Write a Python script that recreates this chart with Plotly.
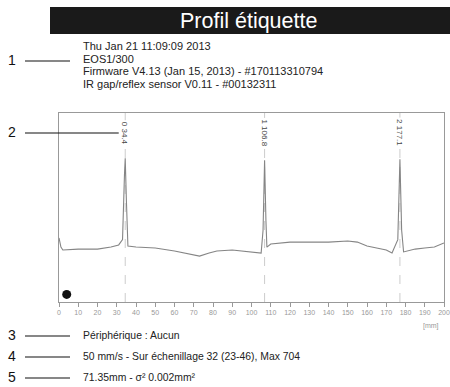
import plotly.graph_objects as go

# label profile data (position in mm, sensor level in arbitrary units)
pos_mm = [0, 1, 2, 10, 20, 27, 31, 33, 34.0, 34.4, 35.0, 35.8, 40, 50, 60, 70, 73, 78, 82,
          90, 95, 100, 105, 106.0, 106.8, 107.5, 108, 110, 115, 120, 130, 140, 150, 155,
          160, 165, 170, 173, 176, 177.1, 178, 179, 185, 190, 195, 200]
level = [33.9, 29.1, 27.5, 28.0, 28.0, 29.1, 30.2, 33.0, 67.0, 76.0, 54.0, 29.6, 29.1, 28.6,
         27.0, 24.9, 24.3, 25.9, 27.0, 27.5, 27.0, 26.5, 25.9, 38.0, 75.0, 43.0, 29.0, 30.7,
         31.2, 31.7, 31.7, 31.7, 32.3, 31.7, 29.6, 28.6, 27.5, 25.9, 33.0, 75.5, 38.0, 26.5,
         28.0, 28.6, 29.1, 31.2]

peak_pos = [34.4, 106.8, 177.1]
peak_labels = ["0 34.4", "1 106.8", "2 177.1"]

dot_x = [4]
dot_y = [4]

x_ticks = list(range(0, 201, 10))

info_lines = [
    "Thu Jan 21 11:09:09 2013",
    "EOS1/300",
    "Firmware V4.13 (Jan 15, 2013) - #170113310794",
    "IR gap/reflex sensor V0.11 - #00132311",
]
bottom_lines = [
    "Périphérique : Aucun",
    "50 mm/s - Sur échenillage 32 (23-46), Max 704",
    "71.35mm - σ² 0.002mm²",
]

W, H = 450, 387
L, R, T, B = 59, 444, 113, 302


def px(x):
    return (x - L) / (R - L)


def py(y):
    return (B - y) / (B - T)


def label(x, y, text, size, color="#222222", xanchor="center", family="Liberation Sans"):
    fig.add_annotation(x=x, y=y, xref="paper", yref="paper", text=text, showarrow=False,
                       xanchor=xanchor, yanchor="middle",
                       font=dict(size=size, color=color, family=family))


fig = go.Figure()

fig.add_trace(go.Scatter(x=pos_mm, y=level, mode="lines",
                         line=dict(color="#858585", width=1.1), hoverinfo="skip"))
fig.add_trace(go.Scatter(x=dot_x, y=dot_y, mode="markers",
                         marker=dict(color="#111111", size=9), hoverinfo="skip"))

# peak markers
for p, lab in zip(peak_pos, peak_labels):
    fig.add_shape(type="line", x0=p, x1=p, y0=0, y1=1, xref="x", yref="paper",
                  line=dict(color="#cccccc", width=1, dash="dash"), layer="below")
    fig.add_annotation(x=p, y=py(133), xref="x", yref="paper", text=lab, textangle=90,
                       showarrow=False, bgcolor="white", xanchor="center", yanchor="middle",
                       font=dict(size=8, color="#444444", family="Liberation Sans"))

# title bar
fig.add_shape(type="rect", xref="paper", yref="paper", x0=px(50), x1=px(452),
              y0=py(34), y1=py(7), fillcolor="#1a1a1a", line=dict(width=0))
label(px(248), py(20.5), "Profil étiquette", 21.5, color="white")

# header info
for i, s in enumerate(info_lines):
    label(px(81), py(46 + 12.7 * i), s, 11, xanchor="left")

# callouts
callouts = [("1", 60, 70), ("2", 132, 122), ("3", 335, 70), ("4", 356, 70), ("5", 377, 70)]
for num, yy, xend in callouts:
    label(px(12), py(yy), num, 14, color="#111111")
    fig.add_shape(type="line", xref="paper", yref="paper", x0=px(25), x1=px(xend),
                  y0=py(yy + 1), y1=py(yy + 1), line=dict(color="#111111", width=1.2))

for i, s in enumerate(bottom_lines):
    label(px(81), py(335 + 21 * i), s, 10.4, xanchor="left")

label(px(431), py(326), "[mm]", 7, color="#999999")

fig.update_xaxes(range=[0, 200], tickvals=x_ticks, ticks="outside", ticklen=4,
                 tickcolor="#999999", tickfont=dict(size=7, color="#999999"),
                 showline=True, linecolor="#999999", mirror=True, showgrid=False,
                 zeroline=False, fixedrange=True, automargin=False)
fig.update_yaxes(range=[0, 100], showticklabels=False, showline=True, linecolor="#999999",
                 mirror=True, showgrid=False, zeroline=False, fixedrange=True, automargin=False)

fig.update_layout(width=W, height=H, margin=dict(l=L, r=W - R, t=T, b=H - B),
                  plot_bgcolor="white", paper_bgcolor="white", showlegend=False,
                  font=dict(family="Liberation Sans"))

fig.write_html("out.html", config={"displayModeBar": False},
               post_script="document.body.style.margin='0';")
